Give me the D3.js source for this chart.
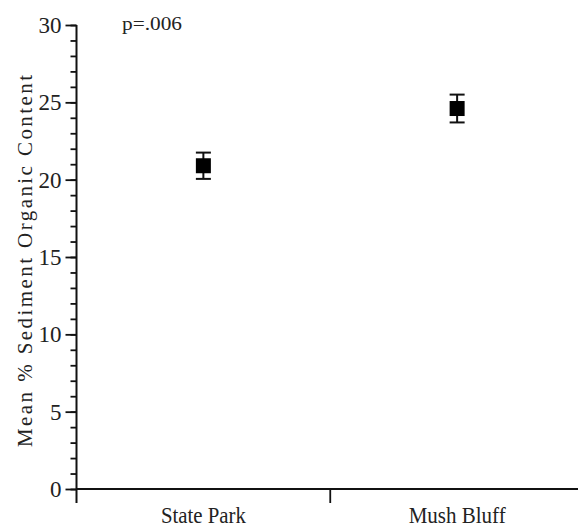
<!DOCTYPE html>
<html>
<head>
<meta charset="utf-8">
<script src="https://cdn.jsdelivr.net/npm/d3@7"></script>
<style>
  html, body { margin: 0; padding: 0; background: #fff; }
  svg { display: block; }
  svg text { font-family: "Liberation Serif", Tinos, "Times New Roman", Times, "DejaVu Serif", serif; fill: #222; }
</style>
</head>
<body>
<svg id="chart" width="578" height="531"></svg>
<script>
// Sediment organic content by site: mean with error bar half-width
const sites = ["State Park", "Mush Bluff"];
const means = [20.9, 24.6];
const errors = [0.85, 0.9];
const yMajorTicks = [0, 5, 10, 15, 20, 25, 30];
const yMinorTicks = d3.range(0, 31, 1);
const yTitle = "Mean % Sediment Organic Content";
const pLabel = "p=.006";

(function draw() {
  const svg = d3.select("#chart");
  const W = 578;
  const plotLeft = 76.5, plotRight = 584, plotTop = 25, plotBottom = 489;
  const ink = "#111";
  const serif = '"Liberation Serif", Tinos, "Times New Roman", Times, "DejaVu Serif", serif';

  const x = d3.scaleBand().domain(sites).range([plotLeft, plotRight]).paddingInner(0).paddingOuter(0);
  const y = d3.scaleLinear().domain([0, 30]).range([plotBottom, plotTop]);

  const extend = 14; // axis lines run past their crossing point

  // minor ticks on y
  svg.append("g")
    .attr("transform", `translate(${plotLeft},0)`)
    .call(d3.axisLeft(y).tickValues(yMinorTicks).tickSize(6).tickFormat(""))
    .call(g => g.select(".domain").remove())
    .call(g => g.selectAll("line").attr("stroke", ink).attr("stroke-width", 1.8));

  // major ticks + labels on y
  svg.append("g")
    .attr("transform", `translate(${plotLeft},0)`)
    .call(d3.axisLeft(y).tickValues(yMajorTicks).tickSize(11).tickPadding(4).tickFormat(d3.format("d")))
    .attr("font-family", serif)
    .call(g => g.select(".domain").remove())
    .call(g => g.selectAll("line").attr("stroke", ink).attr("stroke-width", 1.8))
    .call(g => g.selectAll("text")
      .style("font-family", serif)
      .style("font-size", "23px").attr("fill", "#222"));

  // y axis line (continues below the x axis)
  svg.append("line")
    .attr("x1", plotLeft).attr("x2", plotLeft)
    .attr("y1", y(30)).attr("y2", y(0) + extend)
    .attr("stroke", ink).attr("stroke-width", 2);

  // x axis line
  svg.append("line")
    .attr("x1", plotLeft).attr("x2", W)
    .attr("y1", y(0)).attr("y2", y(0))
    .attr("stroke", ink).attr("stroke-width", 2);

  // ticks between categories
  svg.append("g").selectAll("line")
    .data(sites.slice(0, -1))
    .join("line")
    .attr("x1", d => x(d) + x.bandwidth()).attr("x2", d => x(d) + x.bandwidth())
    .attr("y1", y(0)).attr("y2", y(0) + extend)
    .attr("stroke", ink).attr("stroke-width", 1.8);

  // category labels
  const catWidths = { "State Park": 85, "Mush Bluff": 97 };
  svg.append("g").selectAll("text")
    .data(sites)
    .join("text")
    .attr("x", d => x(d) + x.bandwidth() / 2)
    .attr("y", 523)
    .attr("text-anchor", "middle")
    .attr("textLength", d => catWidths[d])
    .attr("lengthAdjust", "spacingAndGlyphs")
    .style("font-family", serif)
    .style("font-size", "24px")
    .text(d => d);

  // y title
  svg.append("text")
    .attr("transform", `translate(32,${(y(30) + y(0)) / 2 + 4}) rotate(-90)`)
    .attr("text-anchor", "middle")
    .attr("textLength", 372)
    .attr("lengthAdjust", "spacing")
    .style("font-family", serif)
    .style("font-size", "21px")
    .text(yTitle);

  // p-value note
  svg.append("text")
    .attr("x", 122).attr("y", 30)
    .attr("textLength", 60)
    .attr("lengthAdjust", "spacingAndGlyphs")
    .style("font-family", serif)
    .style("font-size", "19px")
    .text(pLabel);

  // error bars and mean markers
  const capW = 15, box = 15;
  const pts = svg.append("g").selectAll("g")
    .data(sites.map((s, i) => ({ s, m: means[i], e: errors[i] })))
    .join("g")
    .attr("transform", d => `translate(${x(d.s) + x.bandwidth() / 2},0)`);

  pts.append("line")
    .attr("x1", 0).attr("x2", 0)
    .attr("y1", d => y(d.m + d.e)).attr("y2", d => y(d.m - d.e))
    .attr("stroke", ink).attr("stroke-width", 2);
  pts.append("line")
    .attr("x1", -capW / 2).attr("x2", capW / 2)
    .attr("y1", d => y(d.m + d.e)).attr("y2", d => y(d.m + d.e))
    .attr("stroke", ink).attr("stroke-width", 2);
  pts.append("line")
    .attr("x1", -capW / 2).attr("x2", capW / 2)
    .attr("y1", d => y(d.m - d.e)).attr("y2", d => y(d.m - d.e))
    .attr("stroke", ink).attr("stroke-width", 2);
  pts.append("rect")
    .attr("x", -box / 2).attr("y", d => y(d.m) - box / 2)
    .attr("width", box).attr("height", box)
    .attr("fill", "#000");
})();
</script>
</body>
</html>
